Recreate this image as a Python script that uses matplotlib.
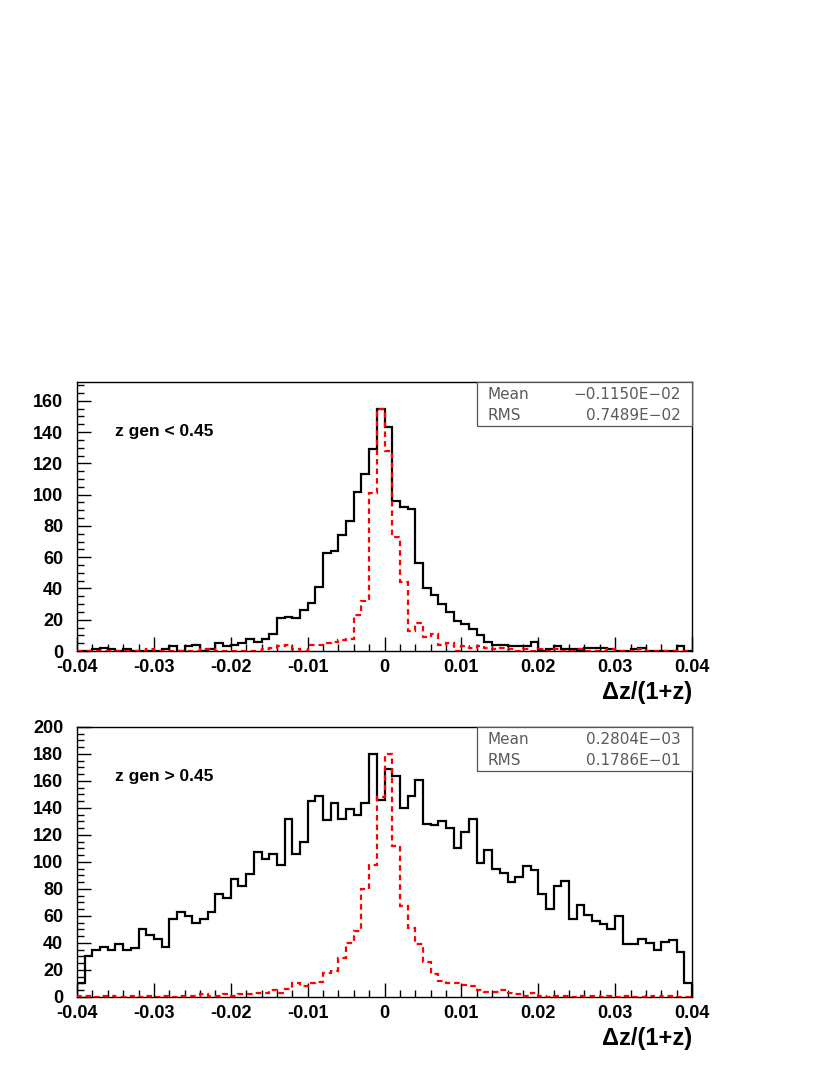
import numpy as np
import matplotlib
matplotlib.use('Agg')
import matplotlib.pyplot as plt
from matplotlib.patches import Rectangle
from matplotlib.ticker import MultipleLocator

plt.rcParams['font.family'] = ['Liberation Sans', 'DejaVu Sans']

# 80 bins of width 0.001 between -0.04 and 0.04
bin_edges = np.linspace(-0.04, 0.04, 81)

# upper panel: z gen < 0.45
low_all = [0, 0, 1, 2, 1, 0, 1, 0, 0, 0,
           0, 1, 3, 0, 3, 4, 0, 1, 5, 3,
           4, 5, 8, 6, 8, 11, 21, 22, 21, 26,
           31, 41, 63, 64, 74, 83, 102, 113, 129, 155,
           143, 96, 92, 91, 56, 40, 36, 30, 25, 19,
           17, 14, 10, 6, 4, 4, 3, 3, 3, 6,
           0, 1, 3, 1, 1, 0, 2, 2, 2, 1,
           0, 0, 1, 2, 0, 0, 0, 0, 3, 0]
low_sel = [0, 0, 0, 0, 0, 0, 0, 0, 0, 1,
           0, 0, 0, 0, 0, 0, 1, 1, 0, 0,
           0, 0, 0, 0, 1, 2, 3, 4, 1, 0,
           4, 4, 5, 6, 7, 8, 23, 32, 101, 155,
           128, 73, 44, 13, 18, 9, 11, 4, 5, 0,
           3, 2, 3, 2, 1, 2, 1, 0, 1, 0,
           1, 0, 1, 0, 0, 1, 0, 0, 0, 1,
           0, 0, 0, 1, 0, 0, 0, 0, 0, 0]

# lower panel: z gen > 0.45
high_all = [10, 30, 35, 37, 35, 39, 35, 36, 50, 46,
            43, 37, 58, 63, 60, 55, 58, 63, 76, 73,
            87, 82, 91, 107, 102, 106, 98, 132, 106, 115,
            145, 149, 131, 144, 132, 139, 135, 144, 180, 146,
            169, 164, 140, 149, 161, 128, 127, 130, 125, 110,
            122, 132, 99, 109, 95, 92, 85, 89, 97, 94,
            76, 65, 82, 86, 58, 68, 61, 56, 54, 50,
            60, 39, 39, 43, 40, 35, 41, 42, 33, 10]
high_sel = [1, 1, 0, 1, 1, 0, 0, 1, 0, 1,
            0, 1, 0, 1, 1, 1, 2, 1, 1, 2,
            1, 2, 2, 3, 3, 5, 3, 6, 10, 8,
            10, 11, 18, 19, 29, 40, 49, 80, 98, 148,
            180, 112, 67, 51, 39, 26, 17, 12, 10, 10,
            9, 8, 5, 4, 4, 5, 3, 2, 1, 3,
            1, 0, 1, 1, 0, 1, 1, 1, 0, 1,
            0, 1, 0, 0, 1, 0, 1, 1, 0, 0]

labels = ['z gen < 0.45', 'z gen > 0.45']
means = ['-0.1150E-02', '0.2804E-03']
rmss = ['0.7489E-02', '0.1786E-01']
ymaxes = [172, 200]

x_ticks = [-0.04, -0.03, -0.02, -0.01, 0, 0.01, 0.02, 0.03, 0.04]
x_ticklabels = ['-0.04', '-0.03', '-0.02', '-0.01', '0',
                '0.01', '0.02', '0.03', '0.04']

fig = plt.figure(figsize=(8.3, 10.75), dpi=100)
ax_top = fig.add_axes([0.0928, 0.3944, 0.7410, 0.2502])
ax_bot = fig.add_axes([0.0928, 0.0726, 0.7410, 0.2512])

panels = [(ax_top, low_all, low_sel), (ax_bot, high_all, high_sel)]

stat_font = dict(fontsize=11, family='DejaVu Sans', fontweight='normal',
                 color='#5a5a5a', va='center', zorder=5)

for i, (ax, h_all, h_sel) in enumerate(panels):
    ax.stairs(h_all, bin_edges, color='black', lw=1.6, zorder=2)
    ax.stairs(h_sel, bin_edges, color='red', lw=1.6,
              linestyle=(0, (2.5, 1.8)), zorder=3)

    ax.set_xlim(-0.04, 0.04)
    ax.set_ylim(0, ymaxes[i])
    ax.set_xticks(x_ticks)
    ax.set_xticklabels(x_ticklabels)
    ax.xaxis.set_minor_locator(MultipleLocator(0.002))
    ax.yaxis.set_major_locator(MultipleLocator(20))
    ax.yaxis.set_minor_locator(MultipleLocator(5))
    ax.tick_params(which='both', direction='in', top=False, right=False,
                   width=1.0, labelsize=13)
    ax.tick_params(which='major', length=10)
    ax.tick_params(which='minor', length=5)
    ax.tick_params(axis='y', pad=10)
    ax.tick_params(axis='x', pad=6)
    for lab in ax.get_xticklabels() + ax.get_yticklabels():
        lab.set_fontweight('bold')
    for sp in ax.spines.values():
        sp.set_linewidth(1.0)

    ax.text(0.062, 0.815, labels[i], transform=ax.transAxes,
            fontsize=12.5, fontweight='bold', va='center', ha='left')

    # statistics box
    ax.add_patch(Rectangle((0.650, 0.838), 0.35, 0.162, transform=ax.transAxes,
                           facecolor='white', edgecolor='#555555', lw=0.9,
                           zorder=4, clip_on=False))
    ax.text(0.668, 0.955, 'Mean', transform=ax.transAxes, **stat_font)
    ax.text(0.982, 0.955, means[i].replace('-', '\u2212'),
            transform=ax.transAxes, ha='right', **stat_font)
    ax.text(0.668, 0.875, 'RMS', transform=ax.transAxes, **stat_font)
    ax.text(0.982, 0.875, rmss[i].replace('-', '\u2212'),
            transform=ax.transAxes, ha='right', **stat_font)

    # axis title at lower right
    ax.text(1.0, -0.155, '\u0394z/(1+z)', transform=ax.transAxes,
            fontsize=17, fontweight='bold', ha='right', va='center')

plt.savefig('out.png', dpi=100)
